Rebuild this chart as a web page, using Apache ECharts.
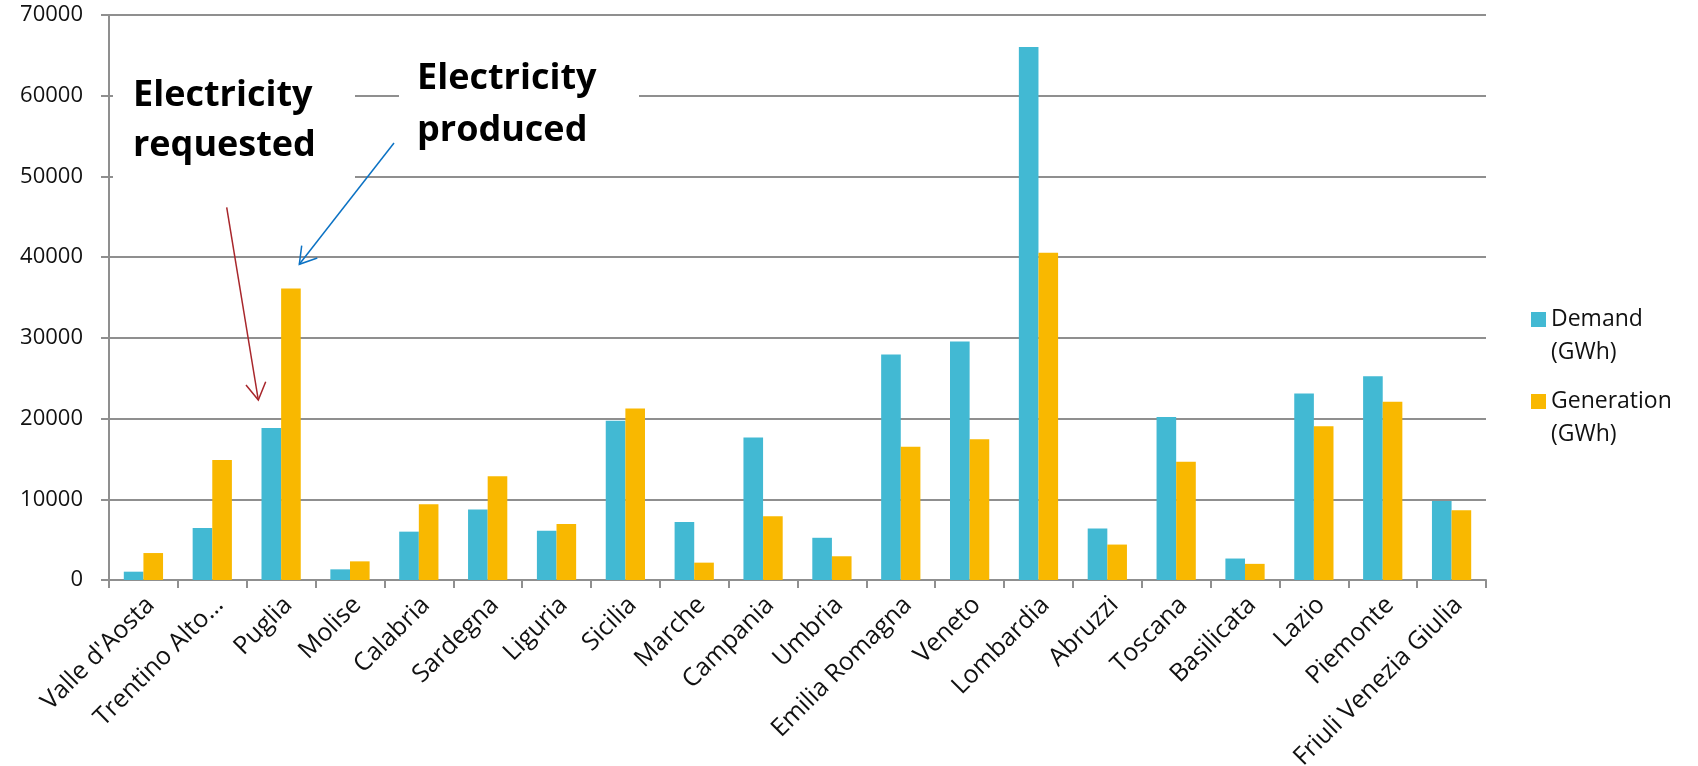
<!DOCTYPE html>
<html>
<head>
<meta charset="utf-8">
<title>Electricity demand and generation by region</title>
<script src="https://cdn.jsdelivr.net/npm/echarts@6/dist/echarts.min.js"></script>
<style>
  html, body { margin: 0; padding: 0; background: #fff; }
  #chart { width: 1698px; height: 766px; }
</style>
</head>
<body>
<div id="chart"></div>
<script>
// Regions along the x axis
const regions = ['Valle d\'Aosta', 'Trentino Alto…', 'Puglia', 'Molise', 'Calabria', 'Sardegna',
  'Liguria', 'Sicilia', 'Marche', 'Campania', 'Umbria', 'Emilia Romagna', 'Veneto', 'Lombardia',
  'Abruzzi', 'Toscana', 'Basilicata', 'Lazio', 'Piemonte', 'Friuli Venezia Giulia'];

// Electricity demand per region (GWh)
const demand = [1030, 6440, 18820, 1320, 5990, 8750, 6110, 19730, 7200, 17640,
  5230, 27950, 29540, 66030, 6390, 20200, 2660, 23100, 25250, 9800];

// Electricity generation per region (GWh)
const generation = [3340, 14860, 36120, 2310, 9370, 12840, 6940, 21260, 2150, 7890,
  2940, 16520, 17450, 40550, 4390, 14650, 2000, 19040, 22070, 8630];

const seriesNames = ['Demand (GWh)', 'Generation (GWh)'];
const valueAxisMax = 70000;
const valueAxisStep = 10000;

const FONT = '"Open Sans", "DejaVu Sans", sans-serif';
const GRID_GRAY = '#8f8f8f';
const TEAL = '#42b9d3';
const GOLD = '#f9b800';

const chart = echarts.init(document.getElementById('chart'), null, { renderer: 'canvas' });

// One legend block per series; the empty first line keeps the swatch level with the name
function legendFor(name, top) {
  return {
    data: [name],
    orient: 'vertical',
    left: 1526,
    top: top,
    icon: 'rect',
    itemWidth: 15,
    itemHeight: 15,
    selectedMode: false,
    formatter: n => ' \n' + n.replace(' ', '\n'),
    textStyle: {
      fontFamily: FONT,
      fontSize: 23,
      color: '#111',
      lineHeight: 33
    }
  };
}

const option = {
  animation: false,
  backgroundColor: '#fff',
  textStyle: { fontFamily: FONT },
  grid: { left: 109, right: 212, top: 15, bottom: 186, containLabel: false,
    outerBoundsMode: 'none' },
  legend: [legendFor(seriesNames[0], 265), legendFor(seriesNames[1], 347)],
  xAxis: {
    type: 'category',
    data: regions,
    boundaryGap: true,
    axisLine: { show: true, lineStyle: { color: GRID_GRAY, width: 2 } },
    axisTick: { show: true, length: 8, alignWithLabel: false, interval: 0,
      lineStyle: { color: GRID_GRAY, width: 2 } },
    axisLabel: {
      interval: 0,
      rotate: 45,
      margin: 14,
      fontFamily: FONT,
      fontSize: 25,
      color: '#111',
      verticalAlign: 'top',
      lineHeight: 20
    },
    splitLine: { show: false }
  },
  yAxis: {
    type: 'value',
    min: 0,
    max: valueAxisMax,
    interval: valueAxisStep,
    axisLine: { show: true, lineStyle: { color: GRID_GRAY, width: 2 } },
    axisTick: { show: true, length: 8, lineStyle: { color: GRID_GRAY, width: 2 } },
    axisLabel: { margin: 26, fontFamily: FONT, fontSize: 22, color: '#111',
      formatter: v => String(v) },
    splitLine: { show: true, lineStyle: { color: GRID_GRAY, width: 2 } }
  },
  series: [
    {
      name: seriesNames[0],
      type: 'bar',
      data: demand,
      barGap: '0%',
      barCategoryGap: '43%',
      itemStyle: { color: TEAL },
      emphasis: { disabled: true }
    },
    {
      name: seriesNames[1],
      type: 'bar',
      data: generation,
      barGap: '0%',
      barCategoryGap: '43%',
      itemStyle: { color: GOLD },
      emphasis: { disabled: true }
    }
  ],
  graphic: [
    // white callout boxes that sit over the grid lines
    { type: 'rect', z: 100, shape: { x: 113, y: 55, width: 242, height: 135 },
      style: { fill: '#fff' } },
    { type: 'rect', z: 100, shape: { x: 399, y: 38, width: 240, height: 127 },
      style: { fill: '#fff' } },
    { type: 'text', z: 101, x: 133, y: 70.5,
      style: { text: 'Electricity\nrequested', fontFamily: FONT, fontWeight: 'bold',
        fontSize: 36, lineHeight: 50, fill: '#000', verticalAlign: 'top' } },
    { type: 'text', z: 101, x: 417, y: 53,
      style: { text: 'Electricity\nproduced', fontFamily: FONT, fontWeight: 'bold',
        fontSize: 36, lineHeight: 52, fill: '#000', verticalAlign: 'top' } },
    // arrow towards the demand bar
    { type: 'line', z: 101, shape: { x1: 226.7, y1: 207.3, x2: 258.3, y2: 400 },
      style: { stroke: '#a8262b', lineWidth: 1.5 } },
    { type: 'polyline', z: 101, shape: { points: [[246, 385], [258.3, 400], [265.7, 381.7]] },
      style: { stroke: '#a8262b', lineWidth: 1.5, fill: null } },
    // arrow towards the generation bar
    { type: 'line', z: 101, shape: { x1: 394, y1: 143, x2: 299.3, y2: 264.3 },
      style: { stroke: '#0b72c4', lineWidth: 1.5 } },
    { type: 'polyline', z: 101, shape: { points: [[301.7, 245.7], [299.3, 264.3], [317.3, 258]] },
      style: { stroke: '#0b72c4', lineWidth: 1.5, fill: null } }
  ]
};

chart.setOption(option);
</script>
</body>
</html>
